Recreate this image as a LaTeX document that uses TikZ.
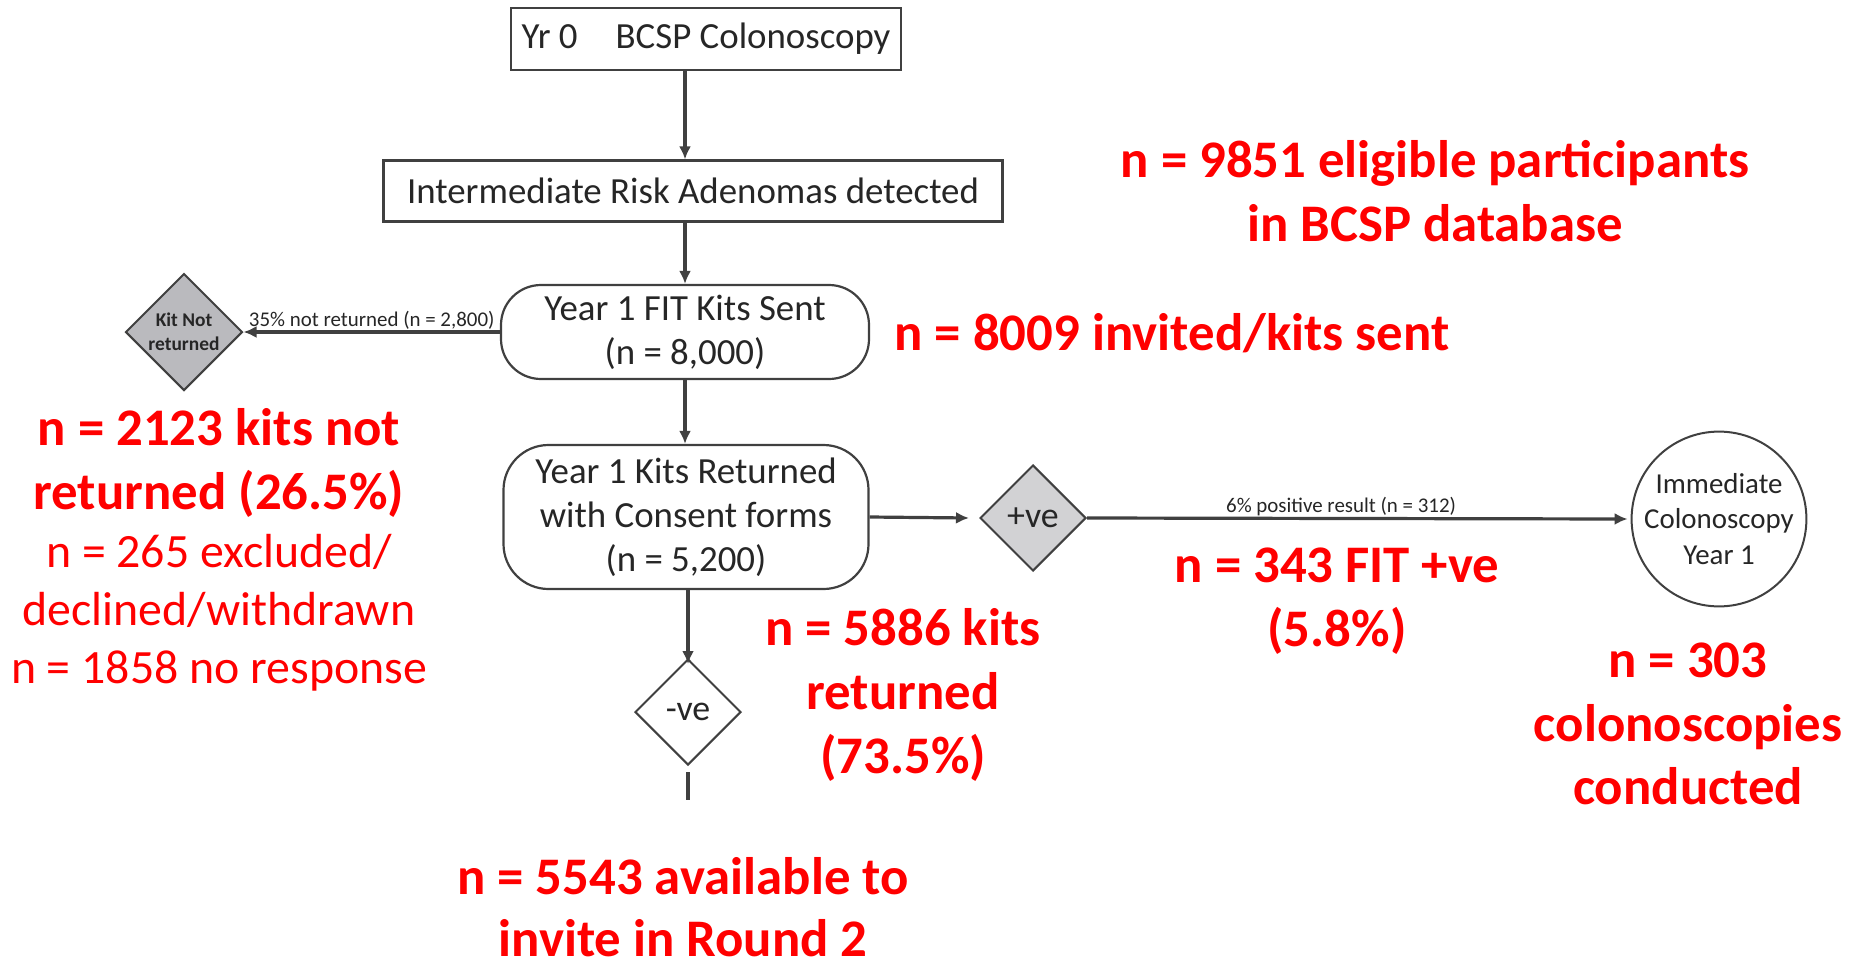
\documentclass[tikz,border=0pt]{standalone}
\usepackage{fontspec}
\setmainfont{Carlito}
\usetikzlibrary{shapes.geometric,arrows.meta}
\definecolor{ln}{HTML}{404040}
\definecolor{tx}{HTML}{262626}
\definecolor{dk}{HTML}{BABABE}
\definecolor{lt}{HTML}{D2D2D4}
\definecolor{rd}{HTML}{FF0000}
\tikzset{
  box/.style={draw=ln, line width=2.2bp, text=tx, inner sep=0pt, font=\fontsize{37}{44}\selectfont},
  rbox/.style={box, rounded corners=40bp, align=center},
  dia/.style={diamond, draw=ln, line width=2bp, text=tx, inner sep=0pt, minimum width=106bp, minimum height=106bp, aspect=1},
  arr/.style={draw=ln, line width=3.2bp, -{Latex[length=13bp,width=12bp]}},
  small/.style={text=tx, font=\fontsize{21}{24}\selectfont, inner sep=1bp},
  redb/.style={text=rd, align=center, font=\fontsize{53}{64}\selectfont\bfseries},
  redr/.style={text=rd, align=center, font=\fontsize{48}{58}\selectfont},
}
\begin{document}
\begin{tikzpicture}[x=1bp,y=-1bp]
\useasboundingbox (0,0) rectangle (1859,964);
% flow nodes
\node[box, minimum width=390bp, minimum height=62bp] (b1) at (706,39) {Yr 0\hspace{38bp}BCSP Colonoscopy};
\node[box, minimum width=619bp, minimum height=61bp] (b2) at (693,191) {Intermediate Risk Adenomas detected};
\node[rbox, minimum width=368bp, minimum height=94bp] (b3) at (685,332) {Year 1 FIT Kits Sent\\(n = 8,000)};
\node[rbox, minimum width=365bp, minimum height=144bp, rounded corners=45bp] (b4) at (686,517) {Year 1 Kits Returned\\with Consent forms\\(n = 5,200)};
\node[dia, fill=dk, minimum width=117bp, minimum height=117bp, font=\fontsize{19.5}{24}\selectfont\bfseries, align=center] (kit) at (184,332) {Kit Not\\returned};
\node[dia, fill=lt, font=\fontsize{36}{42}\selectfont] (pos) at (1033,518) {+ve};
\node[dia, fill=white, font=\fontsize{36}{42}\selectfont] (neg) at (688,712) {-ve};
\node[circle, draw=ln, line width=2bp, text=tx, minimum size=172bp, inner sep=0pt, align=center, font=\fontsize{29}{35.5}\selectfont] (col) at (1719,519) {Immediate\\Colonoscopy\\Year 1};
% connectors
\draw[arr] (b1.south -| b3) -- (b2.north -| b3);
\draw[arr] (b2.south -| b3) -- (b3.north);
\draw[arr] (b3.west) -- node[small, above, pos=0.5] (l1) {35\% not returned (n = 2,800)} (kit.east);
\draw[arr] (b3.south) -- (b4.north -| b3);
\draw[arr] (b4.east) -- ([xshift=-10bp]pos.west);
\draw[arr] (pos.east) -- node[small, above, pos=0.47] (l2) {6\% positive result (n = 312)} ([xshift=-3bp]col.west);
\draw[arr] (b4.south -| neg) -- ([yshift=-6bp]neg.north);
\coordinate (e1) at (688,772);
\coordinate (e2) at (688,800);
\draw[draw=ln, line width=3.2bp] (e1) -- (e2);
% red annotations
\node[redb] (r1) at (1435,191) {n = 9851 eligible participants\\in BCSP database};
\node[redb] (r2) at (1172,333) {n = 8009 invited/kits sent};
\node[redb] (r3) at (219,463) {n = 2123 kits not\\returned (26.5\%)};
\node[redr] (r4) at (219,613) {n = 265 excluded/\\declined/withdrawn\\n = 1858 no response};
\node[redb] (r5) at (903,695) {n = 5886 kits\\returned\\(73.5\%)};
\node[redb] (r6) at (1337,601) {n = 343 FIT +ve\\(5.8\%)};
\node[redb] (r7) at (1688,724) {n = 303\\colonoscopies\\conducted};
\node[redb, inner sep=0pt, font=\fontsize{53}{62}\selectfont\bfseries] (r8) at (683,907) {n = 5543 available to\\invite in Round 2};
\end{tikzpicture}
\end{document}
